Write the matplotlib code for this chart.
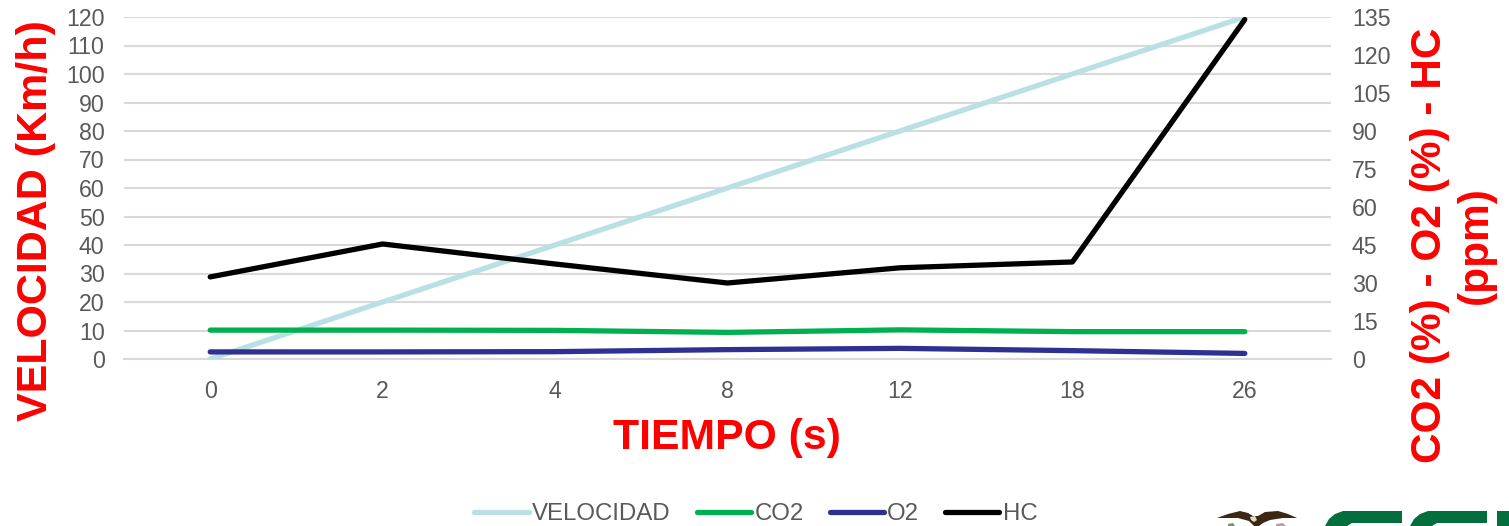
import matplotlib
matplotlib.use("Agg")
import matplotlib.pyplot as plt
from matplotlib.patches import Polygon

W, H = 1509, 526
plt.rcParams['font.family'] = ['Liberation Sans', 'DejaVu Sans']

tiempo = ["0", "2", "4", "8", "12", "18", "26"]
velocidad = [0, 20, 40, 60, 80, 100, 120]
co2 = [11.4, 11.4, 11.3, 10.5, 11.5, 10.8, 10.8]
o2 = [2.8, 2.8, 2.9, 3.7, 4.2, 3.3, 2.2]
hc = [32.4, 45.4, 37.5, 30.0, 36.0, 38.3, 134.0]
left_ticks = list(range(0, 121, 10))
right_ticks = list(range(0, 136, 15))

C_VEL, C_CO2, C_O2, C_HC = '#B9E0E3', '#00B050', '#2E3192', '#000000'
GREY, GRID, RED = '#595959', '#D9D9D9', '#FF0000'
LW = 3.8

fig = plt.figure(figsize=(W / 100, H / 100), dpi=100)
ax = fig.add_axes([124 / W, 1 - 359 / H, (1331 - 124) / W, (359 - 17) / H])
x = range(len(tiempo))

l1, = ax.plot(x, velocidad, color=C_VEL, lw=LW, solid_capstyle='round', label='VELOCIDAD', zorder=3)
ax.set_xlim(-0.5, 6.5)
ax.set_ylim(0, 120)
ax.set_xticks(list(x), tiempo)
ax.set_yticks(left_ticks)
ax.grid(axis='y', color=GRID, lw=1.5)
ax.set_axisbelow(True)
ax.tick_params(axis='both', length=0, labelsize=16.7, labelcolor=GREY)
ax.tick_params(axis='x', pad=15)
ax.tick_params(axis='y', pad=14)
for s in ['top', 'left', 'right']:
    ax.spines[s].set_visible(False)
ax.spines['bottom'].set_color(GRID)
ax.spines['bottom'].set_linewidth(1.5)
ax.set_xlabel('TIEMPO (s)', fontsize=30.8, fontweight='bold', color=RED)
ax.xaxis.set_label_coords((727 - 124) / (1331 - 124), -(438 - 359) / (359 - 17), transform=ax.transAxes)
ax.xaxis.label.set_va('center')
ax.set_ylabel('VELOCIDAD (Km/h)', fontsize=31, fontweight='bold', color=RED)
ax.yaxis.set_label_coords((36 - 124) / (1331 - 124), (359 - 221) / (359 - 17), transform=ax.transAxes)
ax.yaxis.label.set_va('center')

ax2 = ax.twinx()
l2, = ax2.plot(x, co2, color=C_CO2, lw=LW, solid_capstyle='round', label='CO2', zorder=3)
l3, = ax2.plot(x, o2, color=C_O2, lw=LW, solid_capstyle='round', label='O2', zorder=3)
l4, = ax2.plot(x, hc, color=C_HC, lw=LW, solid_capstyle='round', label='HC', zorder=3)
ax2.set_ylim(0, 135)
ax2.set_yticks(right_ticks)
ax2.tick_params(axis='y', length=0, labelsize=16.7, labelcolor=GREY, pad=15)
for s in ax2.spines.values():
    s.set_visible(False)
ax2.set_ylabel('CO2 (%) - O2 (%) - HC\n(ppm)', fontsize=30.5, fontweight='bold', color=RED,
               rotation=90, linespacing=1.2, ha='center', va='center')
ax2.yaxis.set_label_coords((1453 - 124) / (1331 - 124), (359 - 245) / (359 - 17), transform=ax.transAxes)

fig.legend(handles=[l1, l2, l3, l4], loc='center', bbox_to_anchor=(756 / W, 1 - 514 / H), ncols=4,
           frameon=False, fontsize=17.3, labelcolor=GREY, handlelength=2.25, handletextpad=0.15,
           columnspacing=1.08, borderpad=0, borderaxespad=0)


# Logo fragment cut by the lower edge of the picture, drawn as shapes
def logo_shape(points, color):
    fig.add_artist(Polygon([(px / W, 1 - py / H) for px, py in points], closed=True,
                           transform=fig.transFigure, facecolor=color, edgecolor='none'))


GREEN = '#036F3F'
for dx in (0, 85):
    logo_shape([(1325 + dx, 526), (1329 + dx, 519), (1335 + dx, 514), (1343 + dx, 511), (1402 + dx, 511),
                (1402 + dx, 523), (1352 + dx, 523), (1347 + dx, 526)], GREEN)
logo_shape([(1497, 511), (1509, 511), (1509, 526), (1497, 526)], GREEN)

logo_shape([(1217, 518), (1228, 514), (1240, 511), (1248, 513), (1253, 516), (1258, 516), (1265, 512),
            (1278, 511), (1288, 514), (1297, 518), (1283, 518), (1270, 520), (1263, 523), (1259, 526),
            (1254, 526), (1249, 521), (1238, 518)], '#3A2714')
logo_shape([(1250, 517), (1255, 516), (1257, 520), (1254, 522), (1251, 520)], '#E8D8C8')
logo_shape([(1228, 524), (1233, 523), (1235, 526), (1228, 526)], '#7A8F6A')
logo_shape([(1276, 524), (1283, 523), (1286, 526), (1276, 526)], '#B9A0A0')

fig.savefig('out.png', dpi=100)
